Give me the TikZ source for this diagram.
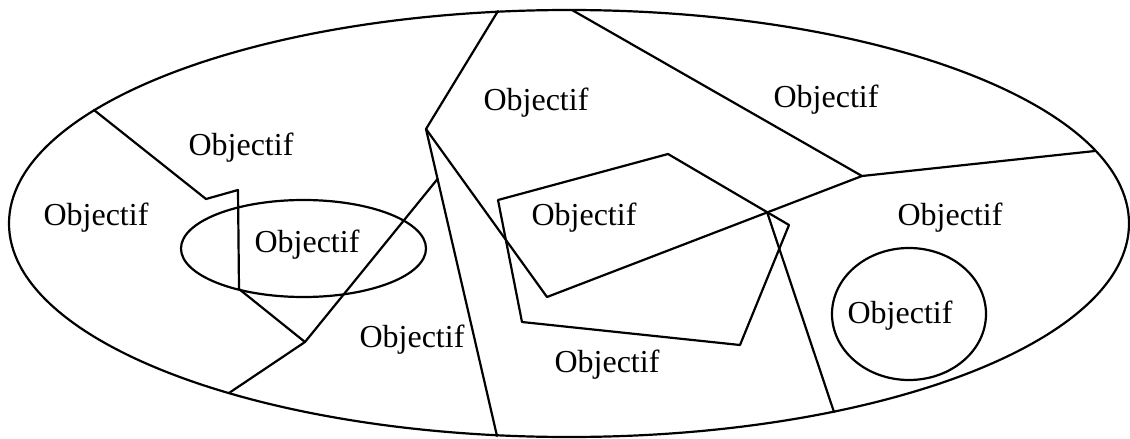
\documentclass[tikz,border=0pt]{standalone}
\usepackage{fontspec}
\setmainfont{Liberation Serif}
\usepackage{tikz}
\usetikzlibrary{calc}

\begin{document}
\begin{tikzpicture}[x=1pt, y=-1pt,
  border/.style={line width=2.2pt, line join=round, line cap=round},
  goal/.style={font=\fontsize{32}{36}\selectfont, inner sep=0pt}]
\useasboundingbox (0,0) rectangle (1130,439);
% Outer field
\draw[border] (569,223.5) ellipse [x radius=560, y radius=213.5];
% Corner points of the frontiers
\coordinate (apex) at (426,129);
\coordinate (topA) at (498,11);
\coordinate (topB) at (572,10);
\coordinate (botA) at (497,436);
\coordinate (fork) at (437.5,179);
\coordinate (knee) at (305,342);
\coordinate (botB) at (229,393);
\coordinate (westA) at (94,110);
\coordinate (notchA) at (206,199);
\coordinate (notchB) at (238,190);
\coordinate (notchC) at (239,289);
\coordinate (dip) at (547,297);
\coordinate (hub) at (862,176);
\coordinate (eastA) at (1095,151);
\coordinate (cross) at (767,212);
\coordinate (botC) at (834,412);
% Frontiers
\draw[border] (topA) -- (apex) -- (botA);
\draw[border] (apex) -- (dip) -- (hub) -- (eastA);
\draw[border] (topB) -- (hub);
\draw[border] (cross) -- (botC);
\draw[border] (fork) -- (knee) -- (botB);
\draw[border] (westA) -- (notchA) -- (notchB) -- (notchC) -- (knee);
% Inner shapes
\draw[border] (303.5,248.5) ellipse [x radius=122.5, y radius=48.5];
\draw[border] (909,314) ellipse [x radius=77, y radius=66];
\draw[border] (498,200) -- (668,154) -- (789,225) -- (740,345) -- (522,322) -- cycle;
% Labels
\node[goal] (goalW) at (96,218) {Objectif};
\node[goal] (goalNW) at (241,148) {Objectif};
\node[goal] (goalIn) at (307,245) {Objectif};
\node[goal] (goalN) at (536,103) {Objectif};
\node[goal] (goalNE) at (826,100) {Objectif};
\node[goal] (goalPent) at (584,218) {Objectif};
\node[goal] (goalE) at (950,218) {Objectif};
\node[goal] (goalSW) at (412,340) {Objectif};
\node[goal] (goalS) at (607,365) {Objectif};
\node[goal] (goalRing) at (900,316) {Objectif};
\end{tikzpicture}
\end{document}
